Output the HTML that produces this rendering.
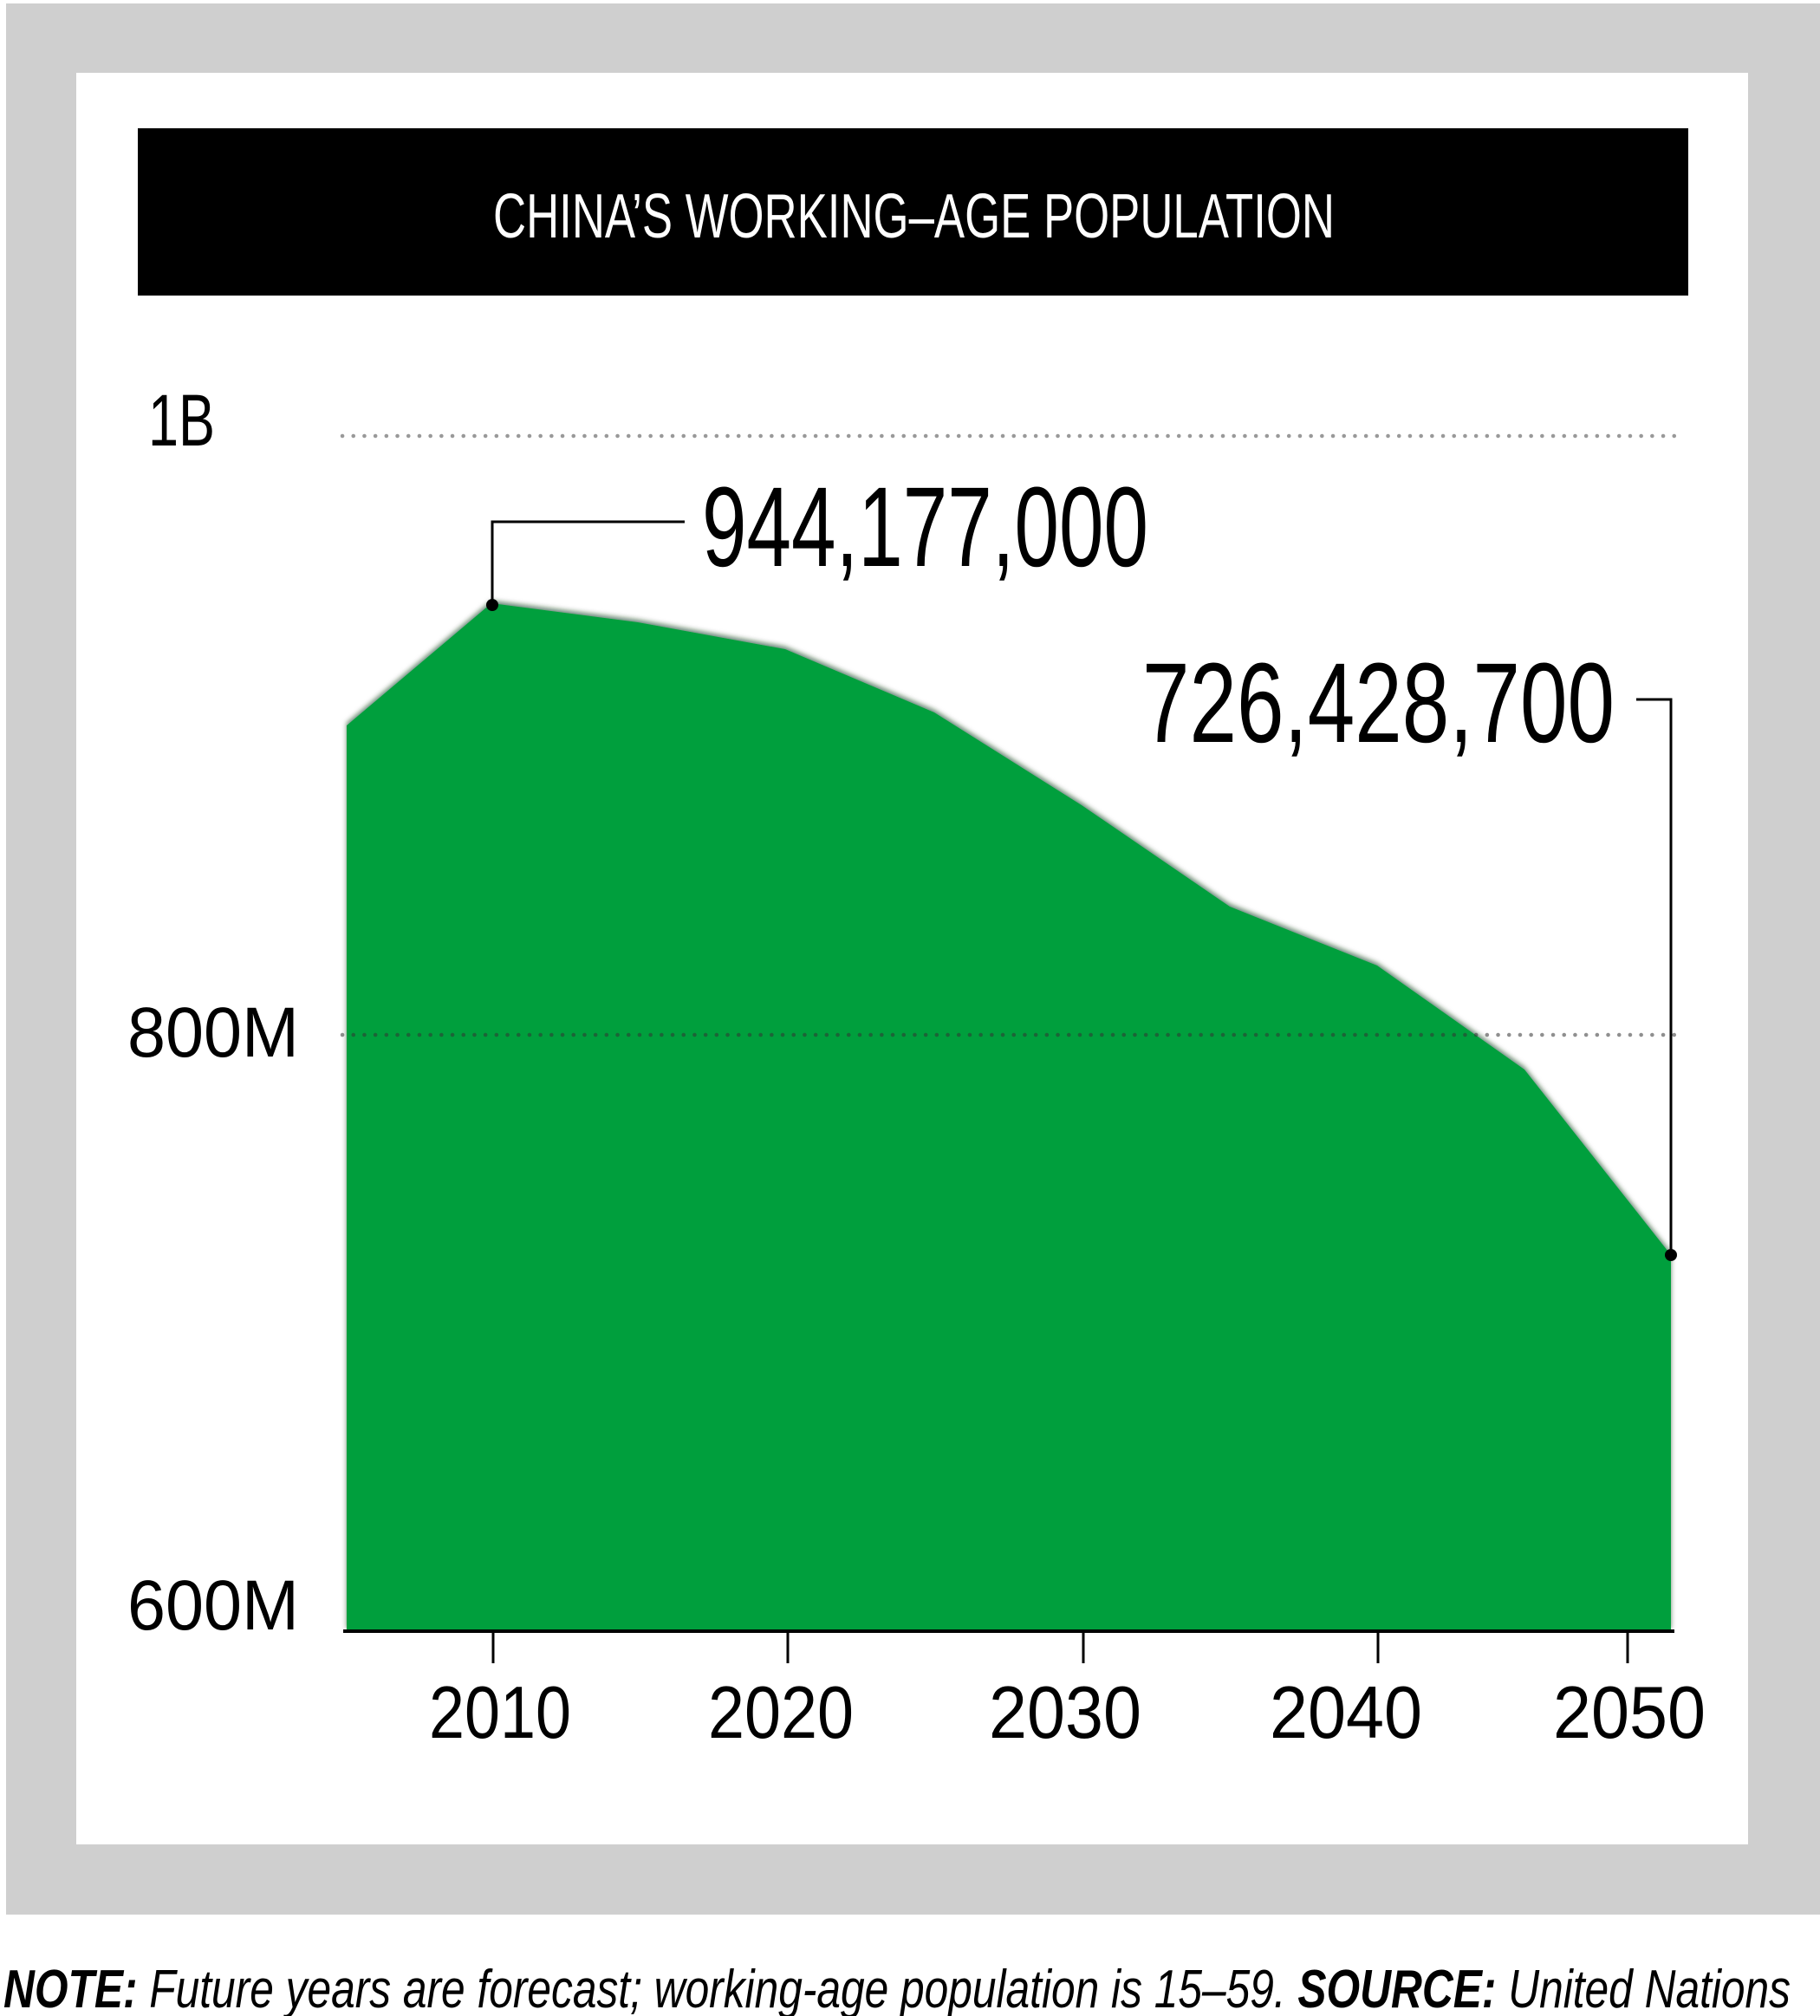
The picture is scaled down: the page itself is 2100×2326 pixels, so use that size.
<!DOCTYPE html>
<html><head><meta charset="utf-8"><style>
html,body{margin:0;padding:0;background:#fff;}
svg{display:block;}
text{font-family:"Liberation Sans",sans-serif;}
</style></head><body>
<svg width="2100" height="2326" viewBox="0 0 2100 2326" xmlns="http://www.w3.org/2000/svg">
<defs>
<filter id="sh" x="-5%" y="-5%" width="110%" height="110%">
<feDropShadow dx="0" dy="-3" stdDeviation="3" flood-color="#003010" flood-opacity="0.6"/>
</filter>
</defs>
<rect x="0" y="0" width="2100" height="2326" fill="#fff"/>
<rect x="7" y="4" width="2093" height="2205" fill="#cfcfcf"/>
<rect x="88" y="84" width="1929" height="2044" fill="#fff"/>
<rect x="159" y="148" width="1789" height="193" fill="#000"/>
<text x="569" y="274" font-size="72" fill="#fff" textLength="971" lengthAdjust="spacingAndGlyphs">CHINA’S WORKING–AGE POPULATION</text>

<text x="171" y="514" font-size="84" fill="#000" textLength="77" lengthAdjust="spacingAndGlyphs">1B</text>
<text x="147" y="1219" font-size="82" fill="#000" textLength="198" lengthAdjust="spacingAndGlyphs">800M</text>
<text x="147" y="1880" font-size="82" fill="#000" textLength="198" lengthAdjust="spacingAndGlyphs">600M</text>

<line x1="395" y1="503" x2="1934" y2="503" stroke="#999" stroke-width="4.5" stroke-dasharray="0.1,12.6" stroke-linecap="round"/>

<polygon filter="url(#sh)" fill="#009f3c" points="400,837 567,696 736,718 906,749 1078,822 1248,929 1419,1046 1589,1114 1759,1234 1928,1448 1928,1882 400,1882"/>

<line x1="395" y1="1194" x2="1934" y2="1194" stroke="#333" stroke-opacity="0.55" stroke-width="4.5" stroke-dasharray="0.1,12.6" stroke-linecap="round"/>

<line x1="396" y1="1882" x2="1932" y2="1882" stroke="#000" stroke-width="4"/>
<g stroke="#000" stroke-width="3">
<line x1="569" y1="1882" x2="569" y2="1919"/>
<line x1="909" y1="1882" x2="909" y2="1919"/>
<line x1="1250" y1="1882" x2="1250" y2="1919"/>
<line x1="1590" y1="1882" x2="1590" y2="1919"/>
<line x1="1878" y1="1882" x2="1878" y2="1919"/>
</g>
<g font-size="85" fill="#000">
<text x="495" y="2005" textLength="164" lengthAdjust="spacingAndGlyphs">2010</text>
<text x="817" y="2005" textLength="168" lengthAdjust="spacingAndGlyphs">2020</text>
<text x="1141" y="2005" textLength="176" lengthAdjust="spacingAndGlyphs">2030</text>
<text x="1465" y="2005" textLength="176" lengthAdjust="spacingAndGlyphs">2040</text>
<text x="1792" y="2005" textLength="176" lengthAdjust="spacingAndGlyphs">2050</text>
</g>

<polyline points="568,698 568,602 790,602" fill="none" stroke="#000" stroke-width="3"/>
<circle cx="568" cy="698" r="7" fill="#000"/>
<text x="810" y="653" font-size="131" fill="#000" textLength="515" lengthAdjust="spacingAndGlyphs">944,177,000</text>

<polyline points="1888,807 1928,807 1928,1448" fill="none" stroke="#000" stroke-width="3"/>
<circle cx="1928" cy="1448" r="7" fill="#000"/>
<text x="1318" y="856" font-size="131" fill="#000" textLength="545" lengthAdjust="spacingAndGlyphs">726,428,700</text>

<text x="4" y="2316" font-size="62" font-style="italic" fill="#000" textLength="2062" lengthAdjust="spacingAndGlyphs"><tspan font-weight="bold">NOTE:</tspan> Future years are forecast; working-age population is 15–59. <tspan font-weight="bold">SOURCE:</tspan> United Nations</text>
</svg>
</body></html>
